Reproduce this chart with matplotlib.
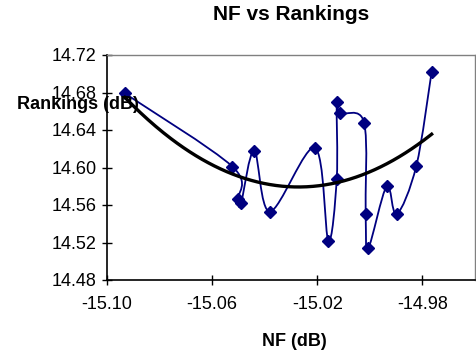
import numpy as np
import matplotlib
matplotlib.use("Agg")
import matplotlib.pyplot as plt
from matplotlib.path import Path
from matplotlib.patches import PathPatch

plt.rcParams['font.family'] = ['Liberation Sans', 'DejaVu Sans']

# NF (dB) and ranking values, in measurement order
nf = [-15.0932, -15.0523, -15.0502, -15.0490, -15.0440, -15.0380, -15.0209,
      -15.0158, -15.0126, -15.0126, -15.0114, -15.0022, -15.0016, -15.0006,
      -14.9936, -14.9898, -14.9823, -14.9765]
rank = [14.679, 14.601, 14.566, 14.562, 14.618, 14.553, 14.621,
        14.522, 14.588, 14.670, 14.658, 14.648, 14.550, 14.514,
        14.580, 14.550, 14.602, 14.702]

x_ticks = [-15.10, -15.06, -15.02, -14.98]
y_ticks = [14.48, 14.52, 14.56, 14.60, 14.64, 14.68, 14.72]

navy = '#000080'

fig = plt.figure(figsize=(4.77, 3.57), dpi=100)
ax = fig.add_axes([107 / 477, 1 - 280 / 357, (475 - 107) / 477, (280 - 55) / 357])


def smooth_path(xs, ys):
    """Cubic Bezier path through the points (Catmull-Rom style smoothing)."""
    pts = np.column_stack([xs, ys])
    n = len(pts)
    verts = [pts[0]]
    codes = [Path.MOVETO]
    for i in range(n - 1):
        p0 = pts[i - 1] if i > 0 else pts[i]
        p1 = pts[i]
        p2 = pts[i + 1]
        p3 = pts[i + 2] if i + 2 < n else pts[i + 1]
        c1 = p1 + (p2 - p0) / 6.0
        c2 = p2 - (p3 - p1) / 6.0
        verts += [c1, c2, p2]
        codes += [Path.CURVE4] * 3
    return Path(verts, codes)


ax.add_patch(PathPatch(smooth_path(nf, rank), facecolor='none',
                       edgecolor=navy, lw=1.3, zorder=2))
ax.plot(nf, rank, linestyle='none', marker='D', ms=6.5, color=navy,
        mec=navy, zorder=3)

# Second-order polynomial trend line
coef = np.polyfit(nf, rank, 2)
xt = np.linspace(min(nf), max(nf), 200)
ax.plot(xt, np.polyval(coef, xt), color='black', lw=2.4, zorder=4)

ax.set_xlim(-15.10, -14.96)
ax.set_ylim(14.48, 14.72)
ax.set_xticks(x_ticks)
ax.set_xticklabels([f"{v:.2f}" for v in x_ticks])
ax.set_yticks(y_ticks)
ax.set_yticklabels([f"{v:.2f}" for v in y_ticks])
ax.tick_params(direction='inout', length=7, width=1, labelsize=13,
               colors='black')
ax.tick_params(axis='y', pad=4)
ax.tick_params(axis='x', pad=8)

for side in ('top', 'right'):
    ax.spines[side].set_color('#808080')
    ax.spines[side].set_linewidth(1)
for side in ('left', 'bottom'):
    ax.spines[side].set_color('black')
    ax.spines[side].set_linewidth(1.2)

fig.text(291 / 477, 1 - 15 / 357, 'NF vs Rankings', ha='center', va='center',
         fontsize=15, fontweight='bold')
fig.text(294 / 477, 1 - 342 / 357, 'NF (dB)', ha='center', va='center',
         fontsize=13, fontweight='bold')
fig.text(17 / 477, 1 - 104 / 357, 'Rankings (dB)', ha='left', va='center',
         fontsize=13, fontweight='bold', zorder=10)

fig.savefig('out.png', dpi=100, facecolor='white')
